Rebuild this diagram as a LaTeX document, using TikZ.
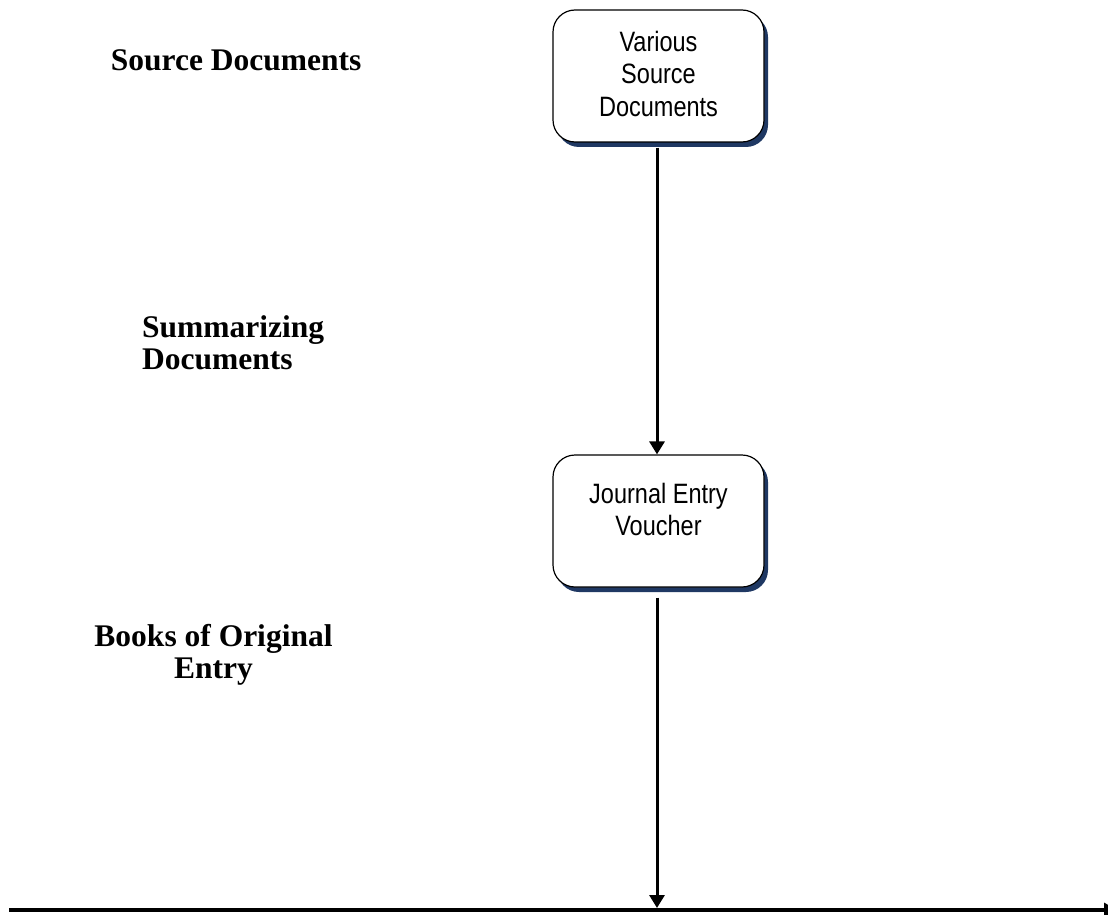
\documentclass[tikz,border=0pt]{standalone}
\usepackage{fontspec}
\newfontfamily\narrowsans[FakeStretch=0.84]{Liberation Sans}
\newfontfamily\tnr{Liberation Serif}
\usetikzlibrary{arrows.meta,shadows}
\definecolor{shadownavy}{RGB}{31,56,99}
\tikzset{
  procbox/.style={draw=black, line width=1.2pt, fill=white, rounded corners=22pt,
    minimum width=211pt, inner sep=0pt,
    drop shadow={shadow xshift=4pt, shadow yshift=-5pt, fill=shadownavy, opacity=1}},
  boxtext/.style={inner sep=0pt, align=center, anchor=north,
    font=\narrowsans\fontsize{28}{32.5}\selectfont},
  sidelabel/.style={inner sep=0pt, font=\tnr\bfseries\fontsize{31.5}{32}\selectfont},
  flow/.style={line width=3pt, -{Triangle[length=13pt,width=15pt]}},
  baseline/.style={line width=4pt, -{Triangle[length=13pt,width=14pt]}}
}
\begin{document}
\begin{tikzpicture}[x=1pt,y=-1pt]
\useasboundingbox (0,0) rectangle (1108,915);
% boxes
\node[procbox, minimum height=132pt] (src) at (658.5,76) {};
\node[procbox, minimum height=132pt] (jev) at (658.5,521) {};
\node[boxtext] (srct) at (658.5,31) {Various\\Source\\Documents};
\node[boxtext] (jevt) at (658.5,483) {Journal Entry\\Voucher};
% side labels
\node[sidelabel, anchor=base west] (l1) at (110.7,70.7) {Source Documents};
\node[sidelabel, anchor=north west, align=left] (l2) at (142,315) {Summarizing\\Documents};
\node[sidelabel, anchor=north, align=center] (l3) at (213.5,624) {Books of Original\\Entry};
% connectors
\coordinate (hl) at (9,910);
\coordinate (hr) at (1117,910);
\coordinate (hit) at (657,908);
\draw[flow] ([xshift=-1.5pt,yshift=-5pt]src.south) -- ([xshift=-1.5pt]jev.north);
\draw[flow] ([xshift=-1.5pt,yshift=-10pt]jev.south) -- (hit);
\draw[baseline] (hl) -- (hr);
\end{tikzpicture}
\end{document}
